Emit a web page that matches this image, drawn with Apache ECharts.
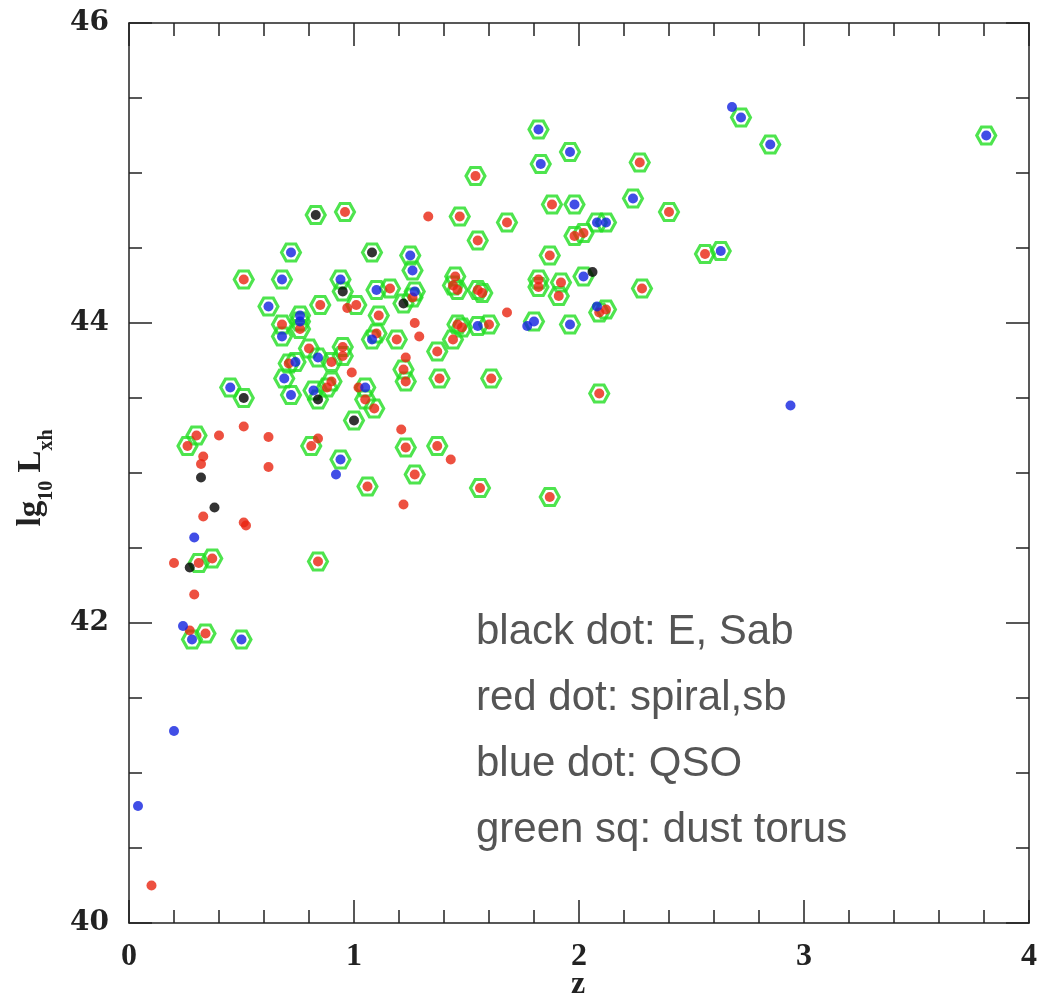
<!DOCTYPE html>
<html>
<head>
<meta charset="utf-8">
<script src="https://cdn.jsdelivr.net/npm/echarts@6/dist/echarts.min.js"></script>
<style>
html,body{margin:0;padding:0;background:#fff;}
#chart{width:1048px;height:1003px;}
</style>
</head>
<body>
<div id="chart"></div>
<script>
// [z, lg10 Lxh, dust torus flag]
const blackPts = [
 [0.83,44.72,1],[1.08,44.47,1],[0.95,44.21,1],[1.22,44.13,1],[2.06,44.34,0],
 [0.84,43.49,1],[0.51,43.50,1],[1.00,43.35,1],[0.32,42.97,0],[0.38,42.77,0],[0.27,42.37,0]
];
const bluePts = [
 [0.04,40.78,0],[0.20,41.28,0],[0.24,41.98,0],[0.28,41.89,1],[0.50,41.89,1],[0.29,42.57,0],
 [0.92,42.99,0],[0.94,43.09,1],[0.45,43.57,1],[0.72,43.52,1],[0.82,43.55,1],[1.05,43.57,1],
 [0.69,43.63,1],[0.74,43.74,1],[0.84,43.77,1],[0.68,43.91,1],[1.08,43.89,1],[0.76,44.05,1],
 [0.76,44.01,1],[0.62,44.11,1],[0.68,44.29,1],[0.94,44.29,1],[1.10,44.22,1],[1.27,44.21,1],
 [0.72,44.47,1],[1.25,44.45,1],[1.26,44.35,1],[1.55,43.98,1],[1.77,43.98,0],[1.80,44.01,1],
 [1.96,43.99,1],[2.08,44.11,0],[2.02,44.31,1],[2.08,44.67,1],[2.12,44.67,1],[1.98,44.79,1],
 [2.24,44.83,1],[1.83,45.06,1],[1.82,45.29,1],[1.96,45.14,1],[2.63,44.48,1],[2.68,45.44,0],
 [2.72,45.37,1],[2.85,45.19,1],[3.81,45.25,1],[2.94,43.45,0]
];
const redPts = [
 [0.10,40.25,0],[0.27,41.95,0],[0.34,41.93,1],[0.29,42.19,0],[0.20,42.40,0],[0.31,42.40,1],
 [0.37,42.43,1],[0.84,42.41,1],[0.33,42.71,0],[0.51,42.67,0],[0.52,42.65,0],[0.33,43.11,0],
 [0.32,43.06,0],[0.62,43.04,0],[0.30,43.25,1],[0.26,43.18,1],[0.40,43.25,0],[0.51,43.31,0],
 [0.62,43.24,0],[0.81,43.18,1],[0.84,43.23,0],[1.06,42.91,1],[1.21,43.29,0],[1.23,43.17,1],
 [1.37,43.18,1],[1.43,43.09,0],[1.27,42.99,1],[1.22,42.79,0],[1.56,42.90,1],[1.87,42.84,1],
 [2.09,43.53,1],[1.09,43.43,1],[1.05,43.49,1],[1.02,43.57,0],[0.90,43.61,1],[0.88,43.57,1],
 [0.99,43.67,0],[1.22,43.69,1],[1.23,43.61,1],[1.38,43.63,1],[1.61,43.63,1],[1.23,43.77,0],
 [1.37,43.81,1],[1.44,43.89,1],[1.19,43.89,1],[1.29,43.91,0],[1.10,43.93,1],[1.27,44.00,0],
 [1.46,43.99,1],[1.48,43.97,1],[1.60,43.99,1],[0.80,43.83,1],[0.95,43.84,1],[0.95,43.78,1],
 [0.90,43.74,1],[0.71,43.73,1],[0.68,43.99,1],[0.76,43.96,1],[0.85,44.12,1],[0.97,44.10,0],
 [1.01,44.12,1],[1.11,44.05,1],[1.26,44.17,1],[1.16,44.23,1],[0.51,44.29,1],[0.96,44.74,1],
 [1.33,44.71,0],[1.47,44.71,1],[1.54,44.98,1],[1.68,44.67,1],[1.55,44.55,1],[1.45,44.31,1],
 [1.44,44.25,1],[1.46,44.22,1],[1.55,44.22,1],[1.57,44.20,1],[1.68,44.07,0],[1.82,44.29,1],
 [1.82,44.24,1],[1.92,44.27,1],[1.91,44.18,1],[1.87,44.45,1],[1.88,44.79,1],[1.98,44.58,1],
 [2.02,44.60,1],[2.09,44.07,1],[2.12,44.09,1],[2.28,44.23,1],[2.27,45.07,1],[2.40,44.74,1],
 [2.56,44.46,1]
];
const legendLines = ['black dot: E, Sab','red dot: spiral,sb','blue dot: QSO','green sq: dust torus'];
const xTickLabels = ['0','1','2','3','4'];
const yTickLabels = ['40','42','44','46'];

const torusPts = blackPts.concat(redPts, bluePts).filter(p => p[2]).map(p => [p[0], p[1]]);
const xy = arr => arr.map(p => [p[0], p[1]]);

const chart = echarts.init(document.getElementById('chart'), null, {renderer:'canvas'});
const axisCol = '#222';
function xAx(pos, show){
  return {type:'value', position:pos, min:0, max:4, interval:1,
    axisLine:{show:true, onZero:false, lineStyle:{color:axisCol, width:1.5}},
    axisTick:{show:true, inside:true, length:23, lineStyle:{color:axisCol, width:1.5}},
    minorTick:{show:true, splitNumber:5, length:13, lineStyle:{color:axisCol, width:1.5}},
    splitLine:{show:false}, minorSplitLine:{show:false},
    axisLabel:{show:show, margin:18, formatter:v=>xTickLabels[Math.round(v)],
      fontFamily:'Liberation Serif', fontSize:32, fontWeight:'bold', color:'#222'}
  };
}
function yAx(pos, show){
  return {type:'value', position:pos, min:40, max:46, interval:2,
    axisLine:{show:true, onZero:false, lineStyle:{color:axisCol, width:1.5}},
    axisTick:{show:true, inside:true, length:23, lineStyle:{color:axisCol, width:1.5}},
    minorTick:{show:true, splitNumber:4, length:13, lineStyle:{color:axisCol, width:1.5}},
    splitLine:{show:false}, minorSplitLine:{show:false},
    axisLabel:{show:show, margin:20, formatter:v=>yTickLabels[Math.round((v-40)/2)],
      fontFamily:'DejaVu Serif', fontSize:28, fontWeight:'bold', color:'#222'}
  };
}
const hex = 'path://M0,8.66 L5,0 L15,0 L20,8.66 L15,17.32 L5,17.32 Z';
const option = {
  animation:false,
  backgroundColor:'#fff',
  grid:{left:129, top:23, width:900, height:900, containLabel:false, outerBoundsMode:'none'},
  xAxis:[xAx('bottom', true), xAx('top', false)],
  yAxis:[yAx('left', true), yAx('right', false)],
  series:[
    {type:'scatter', name:'dust torus', data:torusPts, symbol:hex, symbolSize:[19,17],
     itemStyle:{color:'rgba(255,255,255,0)', borderColor:'#22dd22', borderWidth:3}, z:2},
    {type:'scatter', name:'black', data:xy(blackPts), symbol:'circle', symbolSize:10,
     itemStyle:{color:'#000'}, z:3},
    {type:'scatter', name:'red', data:xy(redPts), symbol:'circle', symbolSize:10,
     itemStyle:{color:'#e82410'}, z:3},
    {type:'scatter', name:'blue', data:xy(bluePts), symbol:'circle', symbolSize:10,
     itemStyle:{color:'#1222e0'}, z:3}
  ],
  graphic:[
    {type:'text', x:578, y:985,
     style:{text:'z', align:'center', verticalAlign:'middle',
       fontFamily:'Liberation Serif', fontSize:32, fontWeight:'bold', fill:'#222'}},
    {type:'text', x:36, y:478, rotation:Math.PI/2,
     style:{text:'{a|lg}{b|10}{a| L}{b|xh}', align:'center', verticalAlign:'middle',
       rich:{a:{fontFamily:'Liberation Serif', fontSize:33, fontWeight:'bold', fill:'#222', padding:[0,0,9,0], verticalAlign:'bottom'},
             b:{fontFamily:'Liberation Serif', fontSize:20, fill:'#222', verticalAlign:'bottom', fontWeight:'bold'}}}}
  ].concat(legendLines.map((t,i)=>({type:'text', left:476, top:611 + i*66,
     style:{text:t, fontFamily:'Liberation Sans', fontSize:42, fill:'#555'}})))
};
chart.setOption(option);
</script>
</body>
</html>
